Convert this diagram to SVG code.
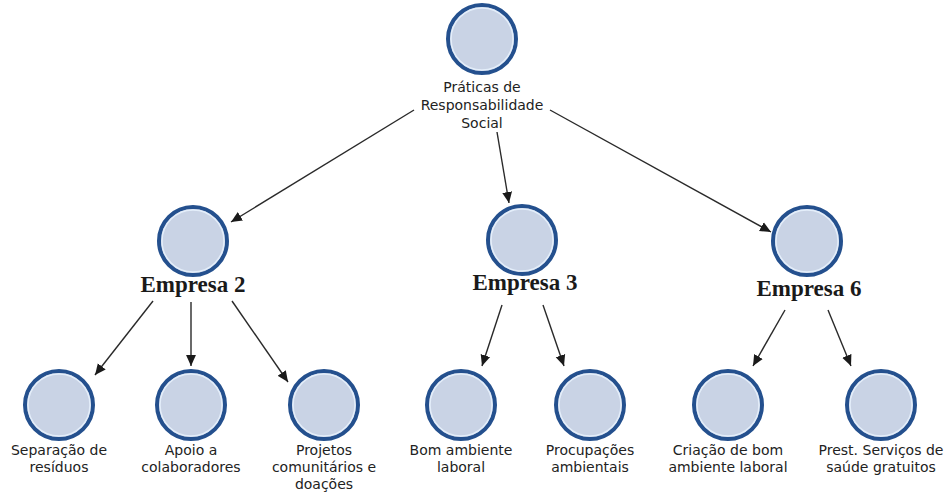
<svg xmlns="http://www.w3.org/2000/svg" width="950" height="497" viewBox="0 0 950 497">
<defs>
<marker id="ah" viewBox="0 0 10 10" refX="10" refY="5" markerWidth="11" markerHeight="11" markerUnits="userSpaceOnUse" orient="auto">
<path d="M0,0.5 L10,5 L0,9.5 Z" fill="#1a1a1a"/>
</marker>
</defs>
<style>
.c{fill:#c9d3e5;stroke:#24508e;stroke-width:4}
.ci{fill:none;stroke:#e4eefa;stroke-width:1.5}
.lb{font-family:"DejaVu Sans",Verdana,sans-serif;font-size:14px;fill:#222;text-anchor:middle}
.em{font-family:"Liberation Serif","Times New Roman",serif;font-size:23px;font-weight:bold;fill:#1a1a1a;text-anchor:middle}
.e{stroke:#2a2a2a;stroke-width:1.4;fill:none;marker-end:url(#ah)}
</style>
<rect width="950" height="497" fill="#fff"/>
<g id="connectors">
<line class="e" x1="414" y1="110" x2="231" y2="222"/>
<line class="e" x1="497" y1="132" x2="509" y2="203"/>
<line class="e" x1="550" y1="110" x2="771" y2="232"/>
<line class="e" x1="153" y1="301" x2="95" y2="375"/>
<line class="e" x1="191" y1="302" x2="191" y2="366"/>
<line class="e" x1="232" y1="301" x2="288" y2="382"/>
<line class="e" x1="502" y1="305" x2="482" y2="366"/>
<line class="e" x1="543" y1="305" x2="564" y2="366"/>
<line class="e" x1="785" y1="310" x2="753" y2="366"/>
<line class="e" x1="828" y1="310" x2="851" y2="366"/>
</g>
<g id="root">
<circle class="c" cx="482" cy="39" r="34"/><circle class="ci" cx="482" cy="39" r="31"/>
<text class="lb" x="482" y="92">Práticas de</text>
<text class="lb" x="482" y="110">Responsabilidade</text>
<text class="lb" x="482" y="128">Social</text>
</g>
<g id="empresa2">
<circle class="c" cx="193" cy="241" r="34"/><circle class="ci" cx="193" cy="241" r="31"/>
<text class="em" x="193" y="292">Empresa 2</text>
</g>
<g id="empresa3">
<circle class="c" cx="522" cy="240" r="34"/><circle class="ci" cx="522" cy="240" r="31"/>
<text class="em" x="525" y="290">Empresa 3</text>
</g>
<g id="empresa6">
<circle class="c" cx="807" cy="241" r="34"/><circle class="ci" cx="807" cy="241" r="31"/>
<text class="em" x="809" y="296">Empresa 6</text>
</g>
<g id="n1">
<circle class="c" cx="59" cy="405" r="34"/><circle class="ci" cx="59" cy="405" r="31"/>
<text class="lb" x="59" y="455">Separação de</text>
<text class="lb" x="59" y="472">resíduos</text>
</g>
<g id="n2">
<circle class="c" cx="191" cy="405" r="34"/><circle class="ci" cx="191" cy="405" r="31"/>
<text class="lb" x="191" y="455">Apoio a</text>
<text class="lb" x="191" y="472">colaboradores</text>
</g>
<g id="n3">
<circle class="c" cx="324" cy="405" r="34"/><circle class="ci" cx="324" cy="405" r="31"/>
<text class="lb" x="324" y="455">Projetos</text>
<text class="lb" x="324" y="472">comunitários e</text>
<text class="lb" x="324" y="489">doações</text>
</g>
<g id="n4">
<circle class="c" cx="461" cy="405" r="34"/><circle class="ci" cx="461" cy="405" r="31"/>
<text class="lb" x="461" y="455">Bom ambiente</text>
<text class="lb" x="461" y="472">laboral</text>
</g>
<g id="n5">
<circle class="c" cx="590" cy="405" r="34"/><circle class="ci" cx="590" cy="405" r="31"/>
<text class="lb" x="590" y="455">Procupações</text>
<text class="lb" x="590" y="472">ambientais</text>
</g>
<g id="n6">
<circle class="c" cx="728" cy="405" r="34"/><circle class="ci" cx="728" cy="405" r="31"/>
<text class="lb" x="728" y="455">Criação de bom</text>
<text class="lb" x="728" y="472">ambiente laboral</text>
</g>
<g id="n7">
<circle class="c" cx="881" cy="405" r="34"/><circle class="ci" cx="881" cy="405" r="31"/>
<text class="lb" x="881" y="455">Prest. Serviços de</text>
<text class="lb" x="881" y="472">saúde gratuitos</text>
</g>
</svg>
